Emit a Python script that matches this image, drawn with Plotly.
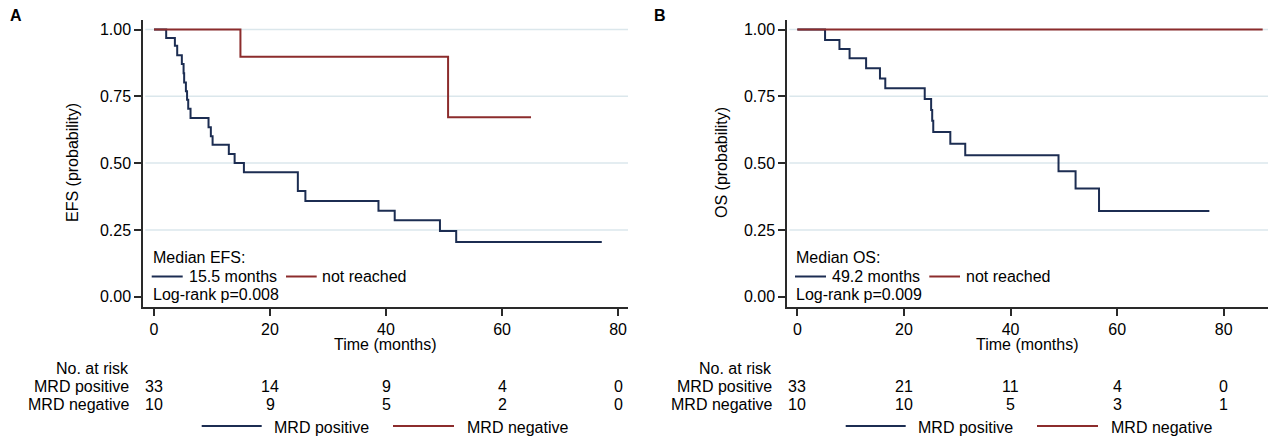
import plotly.graph_objects as go

W, H = 1269, 445

# ---------------- data ----------------
efs_pos_t = [0, 2.1, 3.6, 4.0, 4.8, 5.1, 5.2, 5.5, 5.7, 5.9, 6.3, 9.4, 9.8, 10.1, 12.9, 13.9, 15.5,
             24.8, 26.1, 38.7, 41.5, 49.3, 52.1, 77.2]
efs_pos_s = [1.0, 0.968, 0.939, 0.904, 0.871, 0.836, 0.802, 0.769, 0.737, 0.703, 0.669, 0.634, 0.601,
             0.569, 0.534, 0.500, 0.466, 0.396, 0.358, 0.322, 0.286, 0.246, 0.205, 0.205]
efs_neg_t = [0, 14.9, 50.7, 65.0]
efs_neg_s = [1.0, 0.898, 0.672, 0.672]

os_pos_t = [0, 5.2, 7.9, 9.8, 12.9, 15.5, 16.5, 23.9, 25.1, 25.3, 25.5, 28.7, 31.5, 49.0, 52.2, 56.6, 77.3]
os_pos_s = [1.0, 0.961, 0.927, 0.892, 0.855, 0.817, 0.780, 0.740, 0.699, 0.659, 0.616, 0.572, 0.529,
            0.470, 0.405, 0.321, 0.321]
os_neg_t = [0, 87.3]
os_neg_s = [1.0, 1.0]

risk_times = [0, 20, 40, 60, 80]
efs_risk_pos = [33, 14, 9, 4, 0]
efs_risk_neg = [10, 9, 5, 2, 0]
os_risk_pos = [33, 21, 11, 4, 0]
os_risk_neg = [10, 10, 5, 3, 1]

y_ticks = [0, 0.25, 0.5, 0.75, 1.0]
grid_vals = [0.25, 0.5, 0.75, 1.0]
x_ticks = [0, 20, 40, 60, 80]

BLUE = "#1c2d52"
RED = "#8c2c2c"
AXC = "#2a2a2a"
GRIDC = "#dbe7ec"
FONT = "Liberation Sans, Arial, sans-serif"


def px(x):
    return x / W


def py(y):
    return 1 - y / H


fig = go.Figure()
fig.add_trace(go.Scatter(x=efs_pos_t, y=efs_pos_s, mode="lines", line=dict(shape="hv", color=BLUE, width=2),
                         xaxis="x", yaxis="y", showlegend=False))
fig.add_trace(go.Scatter(x=efs_neg_t, y=efs_neg_s, mode="lines", line=dict(shape="hv", color=RED, width=2),
                         xaxis="x", yaxis="y", showlegend=False))
fig.add_trace(go.Scatter(x=os_pos_t, y=os_pos_s, mode="lines", line=dict(shape="hv", color=BLUE, width=2),
                         xaxis="x2", yaxis="y2", showlegend=False))
fig.add_trace(go.Scatter(x=os_neg_t, y=os_neg_s, mode="lines", line=dict(shape="hv", color=RED, width=2),
                         xaxis="x2", yaxis="y2", showlegend=False))

ydom = [py(307), py(20)]
yrange = [-0.0385, 1.0356]

axis_common = dict(showgrid=False, zeroline=False, showline=True, linecolor=AXC, linewidth=1.5,
                   ticks="outside", ticklen=7, tickwidth=1.5, tickcolor=AXC,
                   tickfont=dict(family=FONT, size=16, color="black"))

fig.update_layout(
    width=W, height=H, margin=dict(l=0, r=0, t=0, b=0),
    paper_bgcolor="white", plot_bgcolor="white",
    xaxis=dict(domain=[px(143), px(628)], range=[-1.897, 81.72], tickvals=x_ticks, anchor="y", **axis_common),
    yaxis=dict(domain=ydom, range=yrange, tickvals=y_ticks, tickformat=".2f", anchor="x", **axis_common),
    xaxis2=dict(domain=[px(787), px(1268)], range=[-1.94, 88.3], tickvals=x_ticks, anchor="y2", **axis_common),
    yaxis2=dict(domain=ydom, range=yrange, tickvals=y_ticks, tickformat=".2f", anchor="x2", **axis_common),
)

shapes = []
for xr, yr, x1 in (("x", "y", 81.72), ("x2", "y2", 88.3)):
    for g in grid_vals:
        shapes.append(dict(type="line", xref=xr, yref=yr, x0=-1.5, x1=x1, y0=g, y1=g,
                           line=dict(color=GRIDC, width=1.5), layer="below"))

annotations = []


def txt(x, y, text, anchor="left", size=16, bold=False, xref="paper", angle=0):
    if bold:
        text = "<b>" + text + "</b>"
    annotations.append(dict(x=x, y=y, xref=xref, yref="paper", text=text, showarrow=False,
                            xanchor=anchor, yanchor="middle", textangle=angle,
                            font=dict(family=FONT, size=size, color="black")))


def seg(x0, x1, y, color):
    shapes.append(dict(type="line", xref="paper", yref="paper", x0=px(x0), x1=px(x1), y0=py(y), y1=py(y),
                       line=dict(color=color, width=2)))


panels = [
    dict(zero=154, axref="x", ylabel="EFS (probability)", ylab_x=72, title="A", tx=15.5,
         med="Median EFS:", medval="15.5 months", p="Log-rank p=0.008",
         rpos=efs_risk_pos, rneg=efs_risk_neg, plot=(143, 628), leg=0),
    dict(zero=797.3, axref="x2", ylabel="OS (probability)", ylab_x=721, title="B", tx=660,
         med="Median OS:", medval="49.2 months", p="Log-rank p=0.009",
         rpos=os_risk_pos, rneg=os_risk_neg, plot=(787, 1268), leg=644),
]

for p in panels:
    o = p["zero"] - 154
    # panel letter
    txt(px(p["tx"]), py(16), p["title"], anchor="center", size=16, bold=True)
    # y-axis title
    txt(px(p["ylab_x"]), py(163), p["ylabel"], anchor="center", angle=-90)
    # x-axis title
    txt(px((p["plot"][0] + p["plot"][1]) / 2), py(344), "Time (months)", anchor="center")
    # median box inside plot
    txt(px(151 + o), py(257), p["med"])
    seg(151.7 + o, 182.7 + o, 276.5, BLUE)
    txt(px(186.5 + o), py(276.5), p["medval"])
    seg(286 + o, 316.7 + o, 276.5, RED)
    txt(px(320.5 + o), py(276.5), "not reached")
    txt(px(151 + o), py(294.5), p["p"])
    # risk table
    txt(px(131 + o), py(368), "No. at risk", anchor="right")
    txt(px(131 + o), py(386), "MRD positive", anchor="right")
    txt(px(131 + o), py(404), "MRD negative", anchor="right")
    for t, a, b in zip(risk_times, p["rpos"], p["rneg"]):
        annotations.append(dict(x=t, y=py(386), xref=p["axref"], yref="paper", text=str(a), showarrow=False,
                                xanchor="center", yanchor="middle", font=dict(family=FONT, size=16, color="black")))
        annotations.append(dict(x=t, y=py(404), xref=p["axref"], yref="paper", text=str(b), showarrow=False,
                                xanchor="center", yanchor="middle", font=dict(family=FONT, size=16, color="black")))
    # bottom legend
    lo = p["leg"]
    seg(201.7 + lo, 261.7 + lo, 426, BLUE)
    txt(px(272 + lo), py(427), "MRD positive")
    seg(393 + lo, 454 + lo, 426, RED)
    txt(px(464.5 + lo), py(427), "MRD negative")

fig.update_layout(shapes=shapes, annotations=annotations)
fig.write_html("out.html", config={"displayModeBar": False},
               post_script="document.body.style.margin='0';document.body.style.overflow='hidden';")
